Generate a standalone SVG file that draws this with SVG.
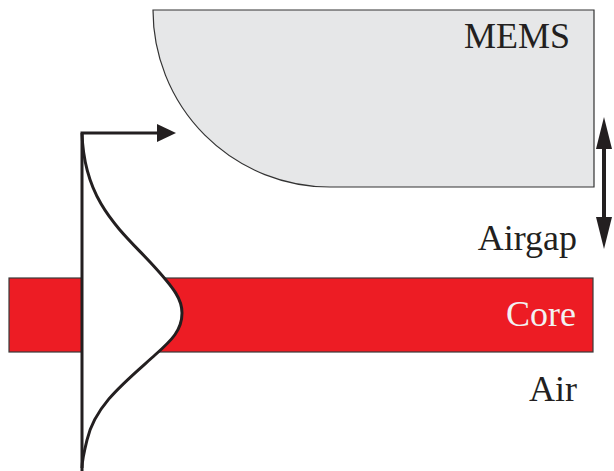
<svg xmlns="http://www.w3.org/2000/svg" width="614" height="471" viewBox="0 0 614 471">
<style>
.lbl{font-family:"Liberation Serif","Times New Roman",serif;font-size:36px;fill:#231f20;text-anchor:end}
.ln{stroke:#231f20;fill:none}
</style>
<rect width="614" height="471" fill="#fff"/>
<g id="mems">
<path d="M153,10 L594,10 L594,187 L330,187 A177,177 0 0 1 153,10 Z" fill="#e6e7e8" stroke="#333" stroke-width="1.2"/>
<text class="lbl" x="570" y="48">MEMS</text>
</g>
<g id="core">
<rect x="9" y="278" width="584" height="74" fill="#ed1c24" stroke="#3a3a3a" stroke-width="1.2"/>
<text class="lbl" x="576" y="326" style="fill:#f2f2f2">Core</text>
</g>
<g id="airgap">
<text class="lbl" x="577" y="250">Airgap</text>
</g>
<g id="air">
<text class="lbl" x="577" y="401">Air</text>
</g>
<g id="mode">
<path d="M82,133 C84,200 118,228 150,262 C176,290 182,300 182,313 C182,330 172,340 155,355 C125,382 95,405 87,440 C84,452 82,460 82,468 Z" fill="#fff" stroke="none"/>
<path class="ln" stroke-width="3" d="M82,133 C84,200 118,228 150,262 C176,290 182,300 182,313 C182,330 172,340 155,355 C125,382 95,405 87,440 C84,452 82,460 82,468"/>
</g>
<g id="connectors">
<path class="ln" stroke-width="3" d="M82,471 L82,133 L160,133"/>
<polygon points="157,124 176,133 157,142" fill="#231f20"/>
<line class="ln" x1="604" y1="140" x2="604" y2="226" stroke-width="4"/>
<polygon points="604,117 612,149 596,149" fill="#231f20"/>
<polygon points="604,249 612,217 596,217" fill="#231f20"/>
</g>
</svg>
